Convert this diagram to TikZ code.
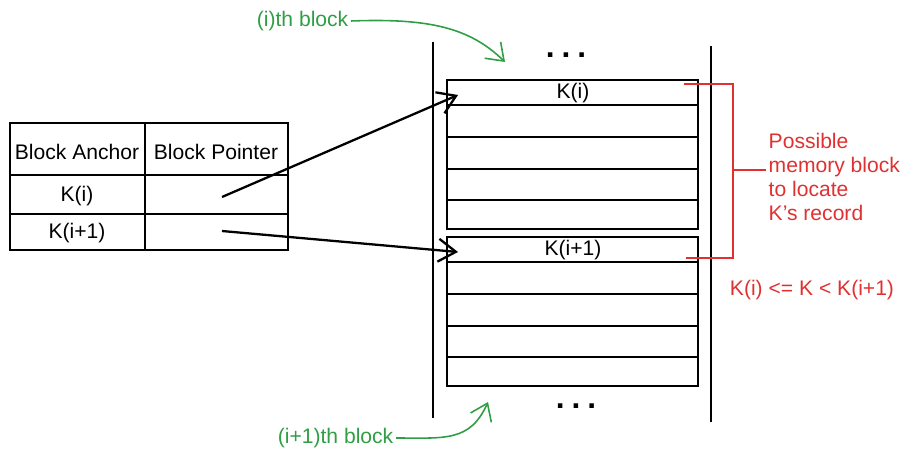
\documentclass[tikz,border=0pt]{standalone}
\usepackage{fontspec}
\setmainfont{Liberation Sans}
\usetikzlibrary{arrows.meta}

\definecolor{notegreen}{HTML}{2F9E44}
\definecolor{notered}{HTML}{E03131}

\tikzset{
  txt/.style={inner sep=1pt, font=\fontsize{12}{14}\selectfont},
  ptr/.style={line width=1.3pt, -{Straight Barb[length=10pt,width=13pt]}},
  note/.style={notegreen, line width=0.9pt, -{Straight Barb[length=9pt,width=13pt]}},
  bracket/.style={notered, line width=1.1pt}
}

\begin{document}
\begin{tikzpicture}[x=0.02cm, y=-0.02cm, line width=1.1pt]
\useasboundingbox (0,0) rectangle (907,460);
\draw (10,123) rectangle (288,250);
\draw (145,123) -- (145,250);
\draw (10,175) -- (288,175);
\draw (10,214) -- (288,214);
\node[txt] (anchorhead) at (77,152) {Block Anchor};
\node[txt] (pointerhead) at (216,152) {Block Pointer};
\node[txt] (anchori) at (77,196) {K(i)};
\node[txt] (anchorii) at (77,233) {K(i+1)};
\coordinate (ptri) at (222,197);
\coordinate (ptrii) at (222,231);

% memory
\draw (433,42) -- (433,418);
\draw (711,46) -- (711,422);
\foreach \top/\key/\name in {80/K(i)/blki, 237/K(i+1)/blkii}{
  \draw (447,\top) rectangle (698,\top+149);
  \foreach \dy in {25,57,89,120}
    \draw (447,\top+\dy) -- (698,\top+\dy);
  \node[txt] (\name) at (573,\top+13) {\key};
  \coordinate (\name-in) at (458,\top+15);
}
\node[font=\fontsize{18}{18}\selectfont\bfseries] (dotstop) at (566,55) {.\hspace{4pt}.\hspace{4pt}.};
\node[font=\fontsize{18}{18}\selectfont\bfseries] (dotsbot) at (576,406) {.\hspace{4pt}.\hspace{4pt}.};

\draw[ptr] (ptri) -- (blki-in);
\draw[ptr] (ptrii) -- (blkii-in);

% notes
\node[txt, notegreen, anchor=east] (ithnote) at (351,21) {(i)th block};
\coordinate (ithtip) at (505,62);
\draw[note] (ithnote.east) .. controls (430,18) and (470,28) .. (ithtip);
\node[txt, notegreen, anchor=east] (nextnote) at (396,438) {(i+1)th block};
\coordinate (nexttip) at (488,402);
\draw[note] (nextnote.east) .. controls (445,438) and (470,442) .. (nexttip);

\coordinate (bracetop) at (684,84);
\coordinate (bracebot) at (686,258);
\coordinate (bracemid) at (733,170);
\draw[bracket] (bracetop) -- (733,84) -- (733,258) -- (bracebot);
\node[txt, notered, anchor=west, align=left, font=\fontsize{12}{13.6}\selectfont] (possible) at (766,177)
  {Possible\\memory block\\to locate\\K's record};
\draw[bracket] (bracemid) -- (bracemid -| possible.west);
\node[txt, notered] (range) at (812,290) {K(i) <= K < K(i+1)};
\end{tikzpicture}
\end{document}
